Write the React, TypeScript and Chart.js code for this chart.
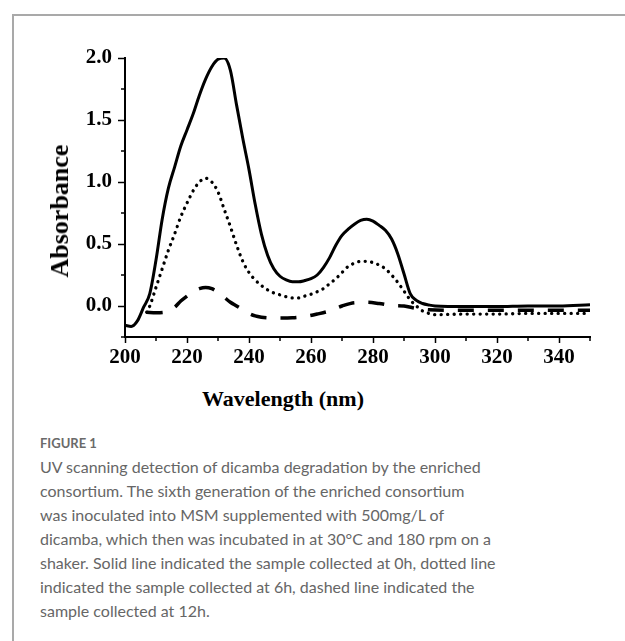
import React, { useEffect, useRef } from "react";
import { Chart, registerables } from "chart.js";

Chart.register(...registerables);

// Wavelength (nm) and absorbance values for each sample
const WL_0H = [200, 202, 204, 206, 208, 210, 212, 214, 216, 218, 220, 222, 224, 226, 228, 230, 232, 234, 236, 238, 240, 242, 244, 246, 248, 250, 252, 254, 256, 258, 260, 262, 264, 266, 268, 270, 272, 274, 276, 278, 280, 282, 284, 286, 288, 290, 292, 294, 296, 298, 300, 310, 320, 330, 340, 350];
const ABS_0H = [-0.155, -0.165, -0.12, -0.01, 0.1, 0.37, 0.7, 0.95, 1.12, 1.29, 1.42, 1.55, 1.7, 1.83, 1.93, 1.99, 2.0, 1.9, 1.62, 1.35, 1.1, 0.82, 0.58, 0.41, 0.3, 0.24, 0.21, 0.195, 0.195, 0.205, 0.22, 0.25, 0.31, 0.39, 0.49, 0.57, 0.62, 0.66, 0.69, 0.7, 0.685, 0.65, 0.61, 0.54, 0.42, 0.26, 0.1, 0.045, 0.02, 0.008, 0.0, -0.005, -0.005, 0.0, 0.0, 0.01];

const WL_6H = [207, 208, 210, 212, 214, 216, 218, 220, 222, 224, 226, 228, 230, 232, 234, 236, 238, 240, 242, 244, 246, 248, 250, 252, 254, 256, 258, 260, 262, 264, 266, 268, 270, 272, 274, 276, 278, 280, 282, 284, 286, 288, 290, 292, 294, 296, 298, 300, 310, 320, 330, 340, 350];
const ABS_6H = [-0.05, 0.0, 0.15, 0.3, 0.45, 0.58, 0.72, 0.83, 0.93, 1.0, 1.03, 1.0, 0.92, 0.78, 0.64, 0.49, 0.36, 0.27, 0.21, 0.165, 0.13, 0.105, 0.09, 0.075, 0.065, 0.065, 0.08, 0.095, 0.115, 0.14, 0.18, 0.22, 0.27, 0.32, 0.345, 0.36, 0.36, 0.35, 0.33, 0.3, 0.25, 0.19, 0.12, 0.05, 0.0, -0.04, -0.06, -0.07, -0.065, -0.065, -0.06, -0.06, -0.06];

const WL_12H = [207, 210, 213, 216, 218, 220, 222, 224, 226, 228, 230, 232, 234, 236, 238, 240, 242, 244, 246, 250, 254, 258, 262, 266, 270, 274, 278, 282, 286, 290, 294, 298, 305, 320, 335, 350];
const ABS_12H = [-0.05, -0.055, -0.05, -0.01, 0.04, 0.08, 0.115, 0.14, 0.15, 0.14, 0.11, 0.07, 0.03, 0.0, -0.03, -0.06, -0.08, -0.09, -0.095, -0.097, -0.095, -0.085, -0.065, -0.04, 0.0, 0.027, 0.03, 0.02, 0.005, 0.0, -0.02, -0.03, -0.035, -0.035, -0.035, -0.035];

const SERIES_LABELS = ["0h", "6h", "12h"];
const X_MIN = 200;
const X_MAX = 350;
const Y_MIN = -0.25;
const Y_MAX = 2.0;

const X_TITLE = "Wavelength (nm)";
const Y_TITLE = "Absorbance";
const FIG_LABEL = "FIGURE 1";
const CAPTION_LINES = [
  "UV scanning detection of dicamba degradation by the enriched",
  "consortium. The sixth generation of the enriched consortium",
  "was inoculated into MSM supplemented with 500mg/L of",
  "dicamba, which then was incubated in at 30°C and 180 rpm on a",
  "shaker. Solid line indicated the sample collected at 0h, dotted line",
  "indicated the sample collected at 6h, dashed line indicated the",
  "sample collected at 12h.",
];

const SERIF = "'Liberation Serif', 'Times New Roman', serif";

const isMajorX = (v: number) => Math.abs(v % 20) < 1e-6;
const isMajorY = (v: number) => Math.abs(v * 2 - Math.round(v * 2)) < 1e-6;

const minorTicks = {
  id: "minorTicks",
  afterDraw(chart: any) {
    const ctx = chart.ctx;
    ctx.save();
    ctx.strokeStyle = "#000";
    ctx.lineWidth = 1.5;
    const xs = chart.scales.x;
    const ys = chart.scales.y;
    xs.ticks.forEach((t: any) => {
      if (!isMajorX(t.value)) {
        const px = xs.getPixelForValue(t.value);
        ctx.beginPath();
        ctx.moveTo(px, xs.top);
        ctx.lineTo(px, xs.top + 4);
        ctx.stroke();
      }
    });
    ys.ticks.forEach((t: any) => {
      if (!isMajorY(t.value)) {
        const py = ys.getPixelForValue(t.value);
        ctx.beginPath();
        ctx.moveTo(ys.right, py);
        ctx.lineTo(ys.right - 4, py);
        ctx.stroke();
      }
    });
    ctx.restore();
  },
};

function App() {
  const ref = useRef<HTMLCanvasElement | null>(null);

  useEffect(() => {
    if (!ref.current) return;
    const toPts = (xs: number[], ys: number[]) => xs.map((x, i) => ({ x, y: ys[i] }));
    const chart = new Chart(ref.current, {
      type: "line",
      data: {
        datasets: [
          {
            label: SERIES_LABELS[0],
            data: toPts(WL_0H, ABS_0H),
            borderColor: "#000",
            borderWidth: 3,
            pointRadius: 0,
            cubicInterpolationMode: "monotone",
            fill: false,
          },
          {
            label: SERIES_LABELS[1],
            data: toPts(WL_6H, ABS_6H),
            borderColor: "#000",
            borderWidth: 3.3,
            borderDash: [0.1, 6.4],
            borderCapStyle: "round",
            pointRadius: 0,
            cubicInterpolationMode: "monotone",
            fill: false,
          },
          {
            label: SERIES_LABELS[2],
            data: toPts(WL_12H, ABS_12H),
            borderColor: "#000",
            borderWidth: 3.5,
            borderDash: [16, 14],
            pointRadius: 0,
            cubicInterpolationMode: "monotone",
            fill: false,
          },
        ],
      },
      options: {
        animation: false,
        responsive: false,
        layout: { padding: { top: 58, right: 35, left: 0, bottom: 0 } },
        plugins: { legend: { display: false }, tooltip: { enabled: false } },
        scales: {
          x: {
            type: "linear",
            min: X_MIN,
            max: X_MAX,
            afterFit: (s: any) => {
              s.height = 43;
            },
            border: { display: true, color: "#000", width: 2 },
            grid: {
              drawOnChartArea: false,
              tickLength: 6,
              tickWidth: 1.5,
              tickColor: (c: any) => (c.tick && isMajorX(c.tick.value) ? "#000" : "rgba(0,0,0,0)"),
            },
            ticks: {
              stepSize: 10,
              autoSkip: false,
              maxRotation: 0,
              padding: 2,
              color: "#000",
              font: { family: SERIF, size: 21, weight: "bold" },
              callback: (v: any) => (isMajorX(Number(v)) ? String(v) : ""),
            },
          },
          y: {
            type: "linear",
            min: Y_MIN,
            max: Y_MAX,
            afterFit: (s: any) => {
              s.width = 125;
            },
            border: { display: true, color: "#000", width: 2 },
            grid: {
              drawOnChartArea: false,
              tickLength: 7,
              tickWidth: 1.5,
              tickColor: (c: any) => (c.tick && isMajorY(c.tick.value) ? "#000" : "rgba(0,0,0,0)"),
            },
            ticks: {
              stepSize: 0.25,
              autoSkip: false,
              padding: 6,
              color: "#000",
              font: { family: SERIF, size: 21, weight: "bold" },
              callback: (v: any) => (isMajorY(Number(v)) ? Number(v).toFixed(1) : ""),
            },
          },
        },
      },
      plugins: [minorTicks],
    } as any);
    return () => chart.destroy();
  }, []);

  return (
    <div style={{ position: "absolute", left: 0, top: 0, width: 625, height: 641, overflow: "hidden", background: "#fff" }}>
      <div
        style={{
          position: "absolute",
          left: 12,
          top: 14,
          width: 700,
          height: 700,
          borderLeft: "2px solid #a9a9a9",
          borderTop: "2px solid #a9a9a9",
        }}
      />
      <canvas ref={ref} width={625} height={380} style={{ position: "absolute", left: 0, top: 0, width: 625, height: 380 }} />
      <div
        style={{
          position: "absolute",
          left: 60,
          top: 211,
          transform: "translate(-50%, -50%) rotate(-90deg)",
          fontFamily: SERIF,
          fontWeight: "bold",
          fontSize: 26,
          whiteSpace: "nowrap",
          lineHeight: 1,
          color: "#000",
        }}
      >
        {Y_TITLE}
      </div>
      <div
        style={{
          position: "absolute",
          left: 283,
          top: 399,
          transform: "translate(-50%, -50%)",
          fontFamily: SERIF,
          fontWeight: "bold",
          fontSize: 22,
          whiteSpace: "nowrap",
          lineHeight: 1,
          color: "#000",
        }}
      >
        {X_TITLE}
      </div>
      <div
        style={{
          position: "absolute",
          left: 40,
          top: 434,
          fontFamily: "Lato, 'Noto Sans', sans-serif",
          fontWeight: 700,
          fontSize: 13,
          lineHeight: "18px",
          color: "#6a6a6a",
          whiteSpace: "nowrap",
        }}
      >
        {FIG_LABEL}
      </div>
      <div
        style={{
          position: "absolute",
          left: 40,
          top: 455,
          fontFamily: "Lato, 'Noto Sans', sans-serif",
          fontWeight: 400,
          fontSize: 16,
          lineHeight: "24px",
          color: "#666",
          whiteSpace: "nowrap",
        }}
      >
        {CAPTION_LINES.map((l, i) => (
          <div key={i}>{l}</div>
        ))}
      </div>
    </div>
  );
}

export default App;
